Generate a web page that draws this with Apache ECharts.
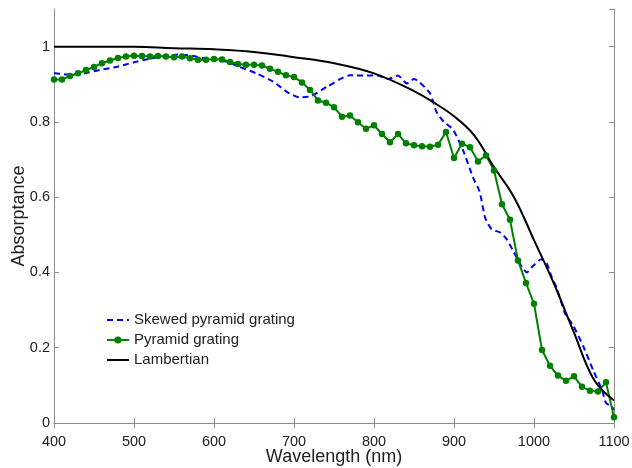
<!DOCTYPE html>
<html>
<head>
<meta charset="utf-8">
<script src="https://cdn.jsdelivr.net/npm/echarts@6/dist/echarts.min.js"></script>
<style>
  html, body { margin: 0; padding: 0; background: #fff; }
  #chart { width: 632px; height: 468px; }
</style>
</head>
<body>
<div id="chart"></div>
<script>
// pyramid grating, sampled every 10 nm
var pyrX = [400, 410, 420, 430, 440, 450, 460, 470, 480, 490,
  500, 510, 520, 530, 540, 550, 560, 570, 580, 590,
  600, 610, 620, 630, 640, 650, 660, 670, 680, 690,
  700, 710, 720, 730, 740, 750, 760, 770, 780, 790,
  800, 810, 820, 830, 840, 850, 860, 870, 880, 890,
  900, 910, 920, 930, 940, 950, 960, 970, 980, 990,
  1000, 1010, 1020, 1030, 1040, 1050, 1060, 1070, 1080, 1090, 1100];
var pyrY = [0.913, 0.913, 0.922, 0.929, 0.938, 0.946, 0.956, 0.963, 0.970, 0.974,
  0.976, 0.975, 0.974, 0.975, 0.974, 0.972, 0.974, 0.969, 0.965, 0.965,
  0.967, 0.966, 0.959, 0.954, 0.952, 0.952, 0.950, 0.941, 0.933, 0.924,
  0.919, 0.905, 0.885, 0.857, 0.851, 0.839, 0.814, 0.817, 0.799, 0.782,
  0.791, 0.768, 0.746, 0.768, 0.743, 0.738, 0.735, 0.734, 0.739, 0.773,
  0.704, 0.742, 0.733, 0.695, 0.711, 0.671, 0.581, 0.540, 0.432, 0.372,
  0.317, 0.194, 0.152, 0.126, 0.112, 0.124, 0.096, 0.086, 0.084, 0.108, 0.015];

// skewed pyramid grating
var skewX = [400, 416, 437, 457, 478, 499, 520, 541, 557, 574,
  591, 616, 632, 653, 674, 691, 707, 722, 741, 770,
  791, 803, 818, 830, 841, 850, 870, 878, 887, 899,
  912, 924, 932, 939, 947, 958, 966, 974, 985, 991,
  999, 1009, 1016, 1022, 1028, 1039, 1049, 1062, 1074, 1085,
  1090, 1097, 1100];
var skewY = [0.930, 0.926, 0.929, 0.938, 0.946, 0.958, 0.968, 0.975, 0.979, 0.975,
  0.968, 0.960, 0.946, 0.929, 0.907, 0.880, 0.865, 0.869, 0.893, 0.924,
  0.923, 0.924, 0.914, 0.923, 0.902, 0.914, 0.876, 0.827, 0.801, 0.779,
  0.721, 0.651, 0.615, 0.545, 0.515, 0.506, 0.488, 0.457, 0.414, 0.400,
  0.418, 0.435, 0.424, 0.388, 0.361, 0.290, 0.259, 0.202, 0.140, 0.088,
  0.053, 0.044, 0.035];

// lambertian limit
var lamX = [400, 450, 500, 550, 600, 650, 700, 750, 800, 850,
  875, 900, 925, 950, 975, 1000, 1025, 1050, 1075, 1100];
var lamY = [1.0, 1.0, 1.0, 0.996, 0.993, 0.986, 0.972, 0.956, 0.929, 0.882,
  0.851, 0.815, 0.765, 0.680, 0.600, 0.486, 0.370, 0.240, 0.115, 0.060];

var xTicks = [400, 500, 600, 700, 800, 900, 1000, 1100];

function pairs(xs, ys) {
  return xs.map(function (x, i) { return [x, ys[i]]; });
}

var axisGrey = '#8c8c8c';
var font = 'Liberation Sans, Arial, sans-serif';

var chart = echarts.init(document.getElementById('chart'));
chart.setOption({
  animation: false,
  backgroundColor: '#fff',
  grid: { left: 54, right: 18, top: 9, bottom: 45, outerBoundsMode: 'none', containLabel: false },
  legend: {
    orient: 'vertical',
    left: 106,
    top: 312,
    padding: 0,
    itemWidth: 22,
    itemHeight: 9,
    itemGap: 4,
    textStyle: { fontFamily: font, fontSize: 15, color: '#222', lineHeight: 16 },
    data: [
      { name: 'Skewed pyramid grating', itemStyle: { opacity: 0 } },
      { name: 'Pyramid grating' },
      { name: 'Lambertian', itemStyle: { opacity: 0 } }
    ]
  },
  xAxis: [{
    type: 'value',
    min: xTicks[0],
    max: xTicks[xTicks.length - 1],
    interval: 100,
    name: 'Wavelength (nm)',
    nameLocation: 'middle',
    nameGap: 25,
    nameMoveOverlap: false,
    nameTextStyle: { fontFamily: font, fontSize: 18, color: '#222' },
    axisLine: { lineStyle: { color: axisGrey, width: 1 } },
    axisTick: { inside: true, length: 5, lineStyle: { color: axisGrey } },
    axisLabel: {
      fontFamily: font, fontSize: 14.5, color: '#222', margin: 11,
      formatter: function (v) { return String(v); }
    },
    splitLine: { show: false }
  }, {
    type: 'value',
    position: 'top',
    min: 400, max: 1100, interval: 100,
    axisLine: { lineStyle: { color: axisGrey, width: 1 } },
    axisTick: { inside: true, length: 5, lineStyle: { color: axisGrey } },
    axisLabel: { show: false },
    splitLine: { show: false }
  }],
  yAxis: [{
    type: 'value',
    min: 0,
    max: 1.1,
    interval: 0.2,
    name: 'Absorptance',
    nameLocation: 'middle',
    nameGap: 25.5,
    nameMoveOverlap: false,
    nameTextStyle: { fontFamily: font, fontSize: 18, color: '#222' },
    axisLine: { show: true, lineStyle: { color: axisGrey, width: 1 } },
    axisTick: { show: true, inside: true, length: 5, lineStyle: { color: axisGrey } },
    axisLabel: { fontFamily: font, fontSize: 14.5, color: '#222', margin: 4, showMaxLabel: false },
    splitLine: { show: false }
  }, {
    type: 'value',
    position: 'right',
    min: 0, max: 1.1, interval: 0.2,
    axisLine: { show: true, lineStyle: { color: axisGrey, width: 1 } },
    axisTick: { show: true, inside: true, length: 5, lineStyle: { color: axisGrey } },
    axisLabel: { show: false },
    splitLine: { show: false }
  }],
  series: [{
    name: 'Skewed pyramid grating',
    type: 'line',
    symbol: 'none',
    smooth: 0.2,
    data: pairs(skewX, skewY),
    lineStyle: { color: '#0000ff', width: 2, type: [6, 4] },
    itemStyle: { color: '#0000ff' }
  }, {
    name: 'Pyramid grating',
    type: 'line',
    symbol: 'circle',
    symbolSize: 6.5,
    data: pairs(pyrX, pyrY),
    lineStyle: { color: '#008000', width: 2 },
    itemStyle: { color: '#008000' }
  }, {
    name: 'Lambertian',
    type: 'line',
    symbol: 'none',
    smooth: 0.4,
    data: pairs(lamX, lamY),
    lineStyle: { color: '#000000', width: 2 },
    itemStyle: { color: '#000000' }
  }]
});
</script>
</body>
</html>
